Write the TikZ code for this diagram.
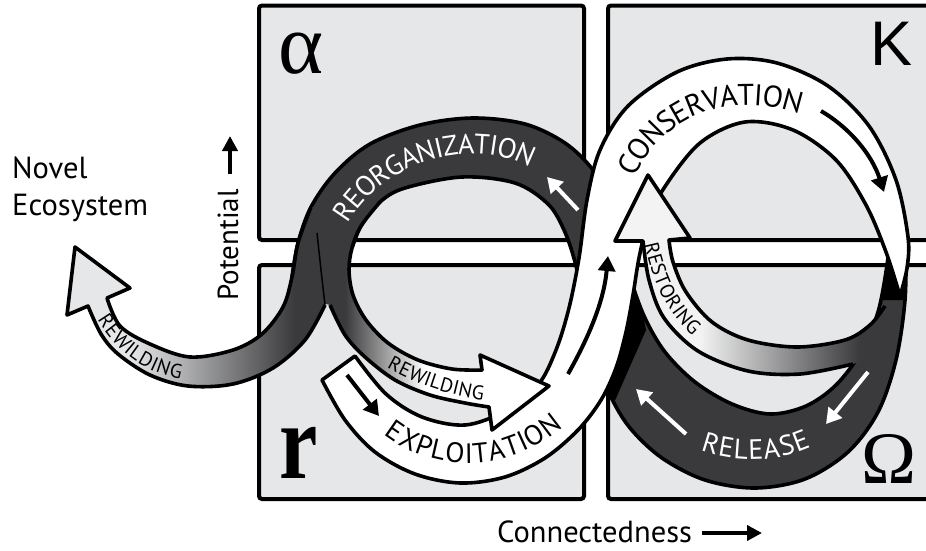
\documentclass[tikz,border=0pt]{standalone}
\usepackage{fontspec}
\setmainfont{PT Sans}
\newfontfamily\greekserif{Liberation Serif}
\newfontfamily\greeksans{Liberation Sans}
\usetikzlibrary{arrows.meta,decorations.text}

\definecolor{panel}{HTML}{E6E7E8}
\definecolor{band}{HTML}{3A3A3C}
\newcommand\bandfont{\fontsize{28}{28}\selectfont}
\newcommand\widebandfont{\fontsize{30}{30}\selectfont}
\newcommand\smallbandfont{\fontsize{20}{20}\selectfont}

% release + reorganization band (dark)
\newcommand\darkbandpath{plot[smooth,tension=.55] coordinates {(906,240) (905,300) (896,360) (878,412) (848,452) (805,479) (755,488) (705,480) (662,458) (630,428) (610,395) (595,355) (584,305) (575,262) (564,230) (548,204) (515,183) (462,177) (405,188) (380,202) (361,226) (352,248)} -- plot[smooth,tension=.55] coordinates {(292,277) (298,243) (311,207) (335,173) (370,144) (420,125) (473,118) (525,124) (565,143) (593,170) (610,202) (621,240) (631,280) (645,318) (665,352) (695,382) (732,404) (770,414) (806,406) (836,385) (861,352) (878,312) (887,265) (889,240)} -- cycle}
% exploitation + conservation band (white)
\newcommand\whitebandpath{plot[smooth,tension=.55] coordinates {(322,380) (345,420) (375,452) (415,474) (460,483) (505,477) (545,458) (578,430) (601,400) (616,368) (626,332) (633,295) (639,258) (648,222) (664,188) (700,143) (745,122) (793,130) (836,160) (866,205) (886,252) (900,296)} -- plot[smooth,tension=.55] coordinates {(900,296) (907,268) (908,237) (896,180) (869,126) (828,86) (777,63) (727,59) (677,72) (628,106) (600,150) (587,200) (579,258) (569,308) (556,350) (538,385) (505,411) (465,425) (422,417) (386,394) (355,356)} -- cycle}
% inner rewilding arrow
\newcommand\innerwildpath{(318,207) -- (380,202) -- plot[smooth,tension=.55] coordinates {(380,202) (361,226) (352,248) (349,270) (353,295) (366,320) (388,343) (418,360) (452,369) (482,370)} -- (480,355) -- (549,386) -- (492,430) -- (489,407) -- plot[smooth,tension=.55] coordinates {(489,407) (465,403) (430,395) (395,380) (365,357) (345,335) (330,305)} -- (308,300) -- (310,240) -- cycle}
% outer rewilding arrow towards the novel ecosystem
\newcommand\outerwildpath{plot[smooth,tension=.55] coordinates {(311,207) (298,243) (292,277) (283,307) (262,334) (233,350) (190,357) (150,344) (120,326) (107,298)} -- (130,288) -- (75,247) -- (67,315) -- (88,306) -- plot[smooth,tension=.55] coordinates {(88,306) (101,334) (118,354) (150,375) (188,386) (233,384) (273,368) (305,340) (325,305)} -- plot[smooth,tension=.55] coordinates {(325,305) (321,270) (318,207)} -- cycle}
% restoring arrow
\newcommand\restorepath{(648,175) -- (690,238) -- (669,240) -- plot[smooth,tension=.55] coordinates {(669,240) (673,262) (686,292) (712,322) (748,340) (797,347) (845,340) (870,325) (885,306)} -- (893,335) -- plot[smooth,tension=.55] coordinates {(893,335) (878,352) (853,364) (800,374) (748,371) (698,351) (664,318) (649,280) (643,241)} -- (615,241) -- cycle}

\begin{document}
\begin{tikzpicture}[x=1pt,y=-1pt,
  edge/.style={draw=black, line width=3.6pt, line join=round},
  panelbox/.style={fill=panel, draw=black, line width=4pt, rounded corners=3pt},
  tinyarrow/.style={line width=4pt, -{Triangle[length=15pt,width=17pt]}},
  axisarrow/.style={line width=4pt, -{Triangle[length=15pt,width=15pt]}},
  plain/.style={inner sep=0pt, font=\fontsize{30.5}{30.5}\selectfont}]
\useasboundingbox (0,0) rectangle (926,550);
\fill[white] (0,0) rectangle (926,550);
\clip (0,0) rectangle (926,550);

% four phase panels
\draw[panelbox] (259,5.5) rectangle (584,240);
\draw[panelbox] (608,5.5) rectangle (940,240);
\draw[panelbox] (259,265) rectangle (584,499);
\draw[panelbox] (608,265) rectangle (940,499);

\node[anchor=base, inner sep=0pt] (alpha) at (301,73) {\fontsize{86}{86}\greekserif α};
\node[anchor=base, inner sep=0pt] (kappa) at (891,65) {\fontsize{63}{63}\greeksans Κ};
\node[anchor=base, inner sep=0pt] (rphase) at (299,478) {\fontsize{108}{108}\greekserif\bfseries\scalebox{0.8}[1]{r}};
\node[anchor=base, inner sep=0pt] (omega) at (889,483) {\fontsize{74}{74}\greekserif Ω};

% axis labels
\node[plain, anchor=base west] (novel) at (12,178) {Novel};
\node[plain, anchor=base west] (eco) at (12,215) {Ecosystem};
\node[plain, rotate=90, anchor=base, font=\fontsize{29}{29}\selectfont] (potential) at (238,245) {Potential};
\coordinate (potTail) at (230,174);
\coordinate (potTip) at (230,136);
\draw[axisarrow] (potTail) -- (potTip);
\node[plain, anchor=base west] (conn) at (497,542) {Connectedness};
\coordinate (connTail) at (702,533);
\coordinate (connTip) at (762,533);
\draw[axisarrow] (connTail) -- (connTip);

% dark band with its shadows
\fill[band] \darkbandpath;
\begin{scope}
  \clip \darkbandpath;
  \fill[black] (598,250) -- (640,300) -- (646,330) -- (613,405) -- (595,400) -- cycle;
  \fill[black] (870,238) -- (912,238) -- (912,300) -- (880,300) -- cycle;
\end{scope}
\draw[edge] plot[smooth,tension=.55] coordinates {(906,240) (905,300) (896,360) (878,412) (848,452) (805,479) (755,488) (705,480) (662,458) (630,428) (610,395) (595,355) (584,305) (575,262) (564,230) (548,204) (515,183) (462,177) (405,188) (380,202) (361,226) (352,248)};
\draw[edge] plot[smooth,tension=.55] coordinates {(292,277) (298,243) (311,207) (335,173) (370,144) (420,125) (473,118) (525,124) (565,143) (593,170) (610,202) (621,240) (631,280) (645,318) (665,352) (695,382) (732,404) (770,414) (806,406) (836,385) (861,352) (878,312) (887,265) (889,240)};

% white band on top
\path[fill=white, edge] \whitebandpath;

% inner rewilding arrow
\begin{scope}
  \clip \innerwildpath;
  \fill[band] (290,190) rectangle (345,440);
  \shade[left color=band, right color=white] (345,262) rectangle (425,440);
  \fill[white] (425,262) rectangle (560,440);
  \fill[band] (290,190) rectangle (560,262);
\end{scope}
\draw[edge] plot[smooth,tension=.55] coordinates {(380,202) (361,226) (352,248) (349,270) (353,295) (366,320) (388,343) (418,360) (452,369) (482,370)} -- (480,355) -- (549,386) -- (492,430) -- (489,407) -- plot[smooth,tension=.55] coordinates {(489,407) (465,403) (430,395) (395,380) (365,357) (345,335) (330,305)};

% outer rewilding arrow
\begin{scope}
  \clip \outerwildpath;
  \fill[panel] (60,190) rectangle (130,400);
  \shade[left color=panel, right color=band] (130,190) rectangle (295,400);
  \fill[band] (295,190) rectangle (340,400);
\end{scope}
\draw[edge] plot[smooth,tension=.55] coordinates {(311,207) (298,243) (292,277) (283,307) (262,334) (233,350) (190,357) (150,344) (120,326) (107,298)} -- (130,288) -- (75,247) -- (67,315) -- (88,306) -- plot[smooth,tension=.55] coordinates {(88,306) (101,334) (118,354) (150,375) (188,386) (233,384) (273,368) (305,340) (325,305)};
\draw[line width=1.5pt] plot[smooth,tension=.55] coordinates {(325,305) (321,270) (317,233)};

% restoring arrow
\begin{scope}
  \clip \restorepath;
  \fill[panel!50!white] (600,160) rectangle (700,390);
  \shade[left color=panel!50!white, right color=band] (700,160) rectangle (860,390);
  \fill[band] (860,160) rectangle (910,390);
\end{scope}
\draw[edge] plot[smooth,tension=.55] coordinates {(853,364) (800,374) (748,371) (698,351) (664,318) (649,280) (643,241)} -- (615,241) -- (648,175) -- (690,238) -- (669,240) -- plot[smooth,tension=.55] coordinates {(669,240) (673,262) (686,292) (712,322) (748,340) (797,347) (845,340) (870,325) (885,306)};

% direction arrows inside the bands
\coordinate (reoTail) at (578,210);
\coordinate (reoTip) at (547,177);
\draw[tinyarrow, white] (reoTail) -- (reoTip);
\coordinate (midTail) at (568,374);
\coordinate (midTip) at (608,256);
\draw[tinyarrow] (midTail) .. controls (590,335) and (604,300) .. (midTip);
\coordinate (expTail) at (347,375);
\coordinate (expTip) at (379,416);
\draw[tinyarrow] (expTail) -- (expTip);
\coordinate (conTail) at (821,111);
\coordinate (conTip) at (884,192);
\draw[tinyarrow] (conTail) .. controls (850,128) and (872,155) .. (conTip);
\coordinate (relTailA) at (868,372);
\coordinate (relTipA) at (826,424);
\draw[tinyarrow, white] (relTailA) -- (relTipA);
\coordinate (relTailB) at (686,434);
\coordinate (relTipB) at (636,389);
\draw[tinyarrow, white] (relTailB) -- (relTipB);

% band labels
\path[decorate, decoration={text along path, text align=center, raise=-9pt, text color=white,
  text={|\bandfont|REORGANIZATION}}]
  (322,268) .. controls (345,140) and (515,105) .. (572,195);
\path[decorate, decoration={text along path, text align=center, raise=-10pt, text color=black,
  text={|\widebandfont|CONSERVATION}}]
  (618,192) .. controls (652,92) and (748,78) .. (822,112);
\path[decorate, decoration={text along path, text align=center, raise=-9pt, text color=black,
  text={|\bandfont|EXPLOITATION}}]
  (362,398) .. controls (410,470) and (520,478) .. (585,390);
\path[decorate, decoration={text along path, text align=center, raise=-9pt, text color=white,
  text={|\bandfont|RELEASE}}]
  (680,430) .. controls (720,458) and (790,458) .. (830,425);
\path[decorate, decoration={text along path, text align=center, raise=-7pt, text color=black,
  text={|\smallbandfont|REWILDING}}]
  (95,300) .. controls (115,345) and (150,372) .. (200,374);
\path[decorate, decoration={text along path, text align=center, raise=-7pt, text color=black,
  text={|\smallbandfont|REWILDING}}]
  (378,354) .. controls (410,375) and (450,390) .. (498,395);
\path[decorate, decoration={text along path, text align=center, raise=-7pt, text color=black,
  text={|\smallbandfont|RESTORING}}]
  (648,225) .. controls (656,275) and (672,315) .. (712,342);
\end{tikzpicture}
\end{document}
